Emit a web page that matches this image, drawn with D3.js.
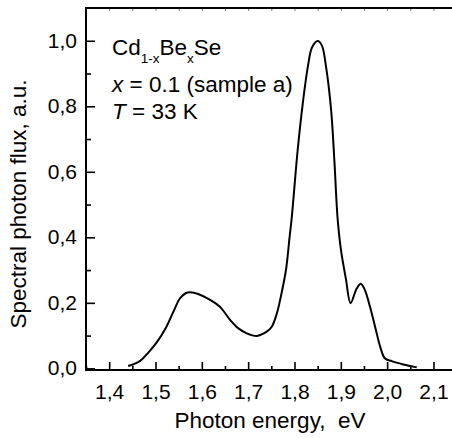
<!DOCTYPE html>
<html>
<head>
<meta charset="utf-8">
<script src="https://cdn.jsdelivr.net/npm/d3@7"></script>
<style>
  html, body { margin: 0; padding: 0; background: #fff; }
  svg { display: block; }
  text { font-family: "Liberation Sans", Arial, Helvetica, sans-serif; fill: #000; white-space: pre; }
</style>
</head>
<body>
<svg id="chart" width="452" height="438"></svg>
<script>
// ---- data ----
const energy = [1.441, 1.467, 1.485, 1.503, 1.521, 1.538, 1.553, 1.566, 1.575, 1.592, 1.618, 1.639, 1.650, 1.661, 1.679, 1.697, 1.718, 1.726, 1.740, 1.751, 1.762, 1.771, 1.782, 1.789, 1.794, 1.807, 1.818, 1.829, 1.838, 1.850, 1.859, 1.868, 1.879, 1.886, 1.893, 1.900, 1.911, 1.921, 1.934, 1.943, 1.952, 1.963, 1.974, 1.985, 1.995, 2.010, 2.035, 2.064];
const flux   = [0.007, 0.023, 0.049, 0.080, 0.120, 0.171, 0.214, 0.230, 0.232, 0.227, 0.209, 0.188, 0.169, 0.148, 0.122, 0.107, 0.099, 0.102, 0.112, 0.127, 0.168, 0.222, 0.304, 0.395, 0.459, 0.668, 0.810, 0.922, 0.980, 0.999, 0.986, 0.922, 0.790, 0.637, 0.459, 0.365, 0.273, 0.199, 0.243, 0.258, 0.239, 0.188, 0.127, 0.066, 0.031, 0.022, 0.012, 0.003];
const xTicks = [1.4, 1.5, 1.6, 1.7, 1.8, 1.9, 2.0, 2.1];
const xTickLabels = ["1,4", "1,5", "1,6", "1,7", "1,8", "1,9", "2,0", "2,1"];
const xMinor = [1.35, 1.45, 1.55, 1.65, 1.75, 1.85, 1.95, 2.05];
const yTicks = [0.0, 0.2, 0.4, 0.6, 0.8, 1.0];
const yTickLabels = ["0,0", "0,2", "0,4", "0,6", "0,8", "1,0"];
const yMinor = [0.1, 0.3, 0.5, 0.7, 0.9];
const topTicks = [1.4, 1.45, 1.5, 1.55, 1.6, 1.65, 1.7, 1.75, 1.8, 1.85, 1.9, 1.95, 2.0, 2.05, 2.1];

// ---- layout ----
const svg = d3.select("#chart");
const L = 86, R = 452, T = 8, B = 370;
const x = d3.scaleLinear().domain([1.35, 2.14]).range([L, R]);
const y = d3.scaleLinear().domain([-0.005, 1.1]).range([B, T]);
const tickFont = "21px", titleFont = "22.5px", noteFont = "22.5px";

// top axis (minor inward ticks)
const gTop = svg.append("g").attr("transform", `translate(0,${T})`)
  .call(d3.axisTop(x).tickValues(topTicks).tickSize(-3).tickFormat(""));
gTop.select(".domain").remove();
gTop.selectAll(".tick line").attr("stroke", "#777").attr("stroke-width", 1);
svg.append("line").attr("x1", L).attr("x2", R).attr("y1", T).attr("y2", T)
  .attr("stroke", "#000").attr("stroke-width", 2);

// bottom axis
const gBm = svg.append("g").attr("transform", `translate(0,${B})`)
  .call(d3.axisBottom(x).tickValues(xMinor).tickSize(-4).tickFormat(""));
gBm.select(".domain").remove();
gBm.selectAll(".tick line").attr("stroke-width", 1.6);
const gB = svg.append("g").attr("transform", `translate(0,${B})`)
  .call(d3.axisBottom(x).tickValues(xTicks).tickSize(-8)
    .tickFormat((d, i) => xTickLabels[i]));
gB.select(".domain").remove();
gB.selectAll(".tick line").attr("stroke-width", 1.6);
gB.selectAll(".tick text").attr("font-size", tickFont).attr("dy", "0").attr("y", 29);
svg.append("line").attr("x1", L - 1).attr("x2", R).attr("y1", B).attr("y2", B)
  .attr("stroke", "#000").attr("stroke-width", 2);

// left axis
const gLm = svg.append("g").attr("transform", `translate(${L},0)`)
  .call(d3.axisLeft(y).tickValues(yMinor).tickSize(-5).tickFormat(""));
gLm.select(".domain").remove();
gLm.selectAll(".tick line").attr("stroke-width", 1.6);
const gL = svg.append("g").attr("transform", `translate(${L},0)`)
  .call(d3.axisLeft(y).tickValues(yTicks).tickSize(-9)
    .tickFormat((d, i) => yTickLabels[i]));
gL.select(".domain").remove();
gL.selectAll(".tick line").attr("stroke-width", 1.6);
gL.selectAll(".tick text").attr("font-size", tickFont).attr("x", -9).attr("dy", "0.3em");
svg.append("line").attr("x1", L).attr("x2", L).attr("y1", T - 1).attr("y2", B + 1)
  .attr("stroke", "#000").attr("stroke-width", 2);

// curve
const line = d3.line()
  .x((d, i) => x(energy[i]))
  .y((d, i) => y(flux[i]))
  .curve(d3.curveCatmullRom.alpha(0.5));
svg.append("path").datum(flux).attr("d", line)
  .attr("fill", "none").attr("stroke", "#000").attr("stroke-width", 2)
  .attr("stroke-linejoin", "round");

// axis titles
svg.append("text").attr("x", 270).attr("y", 428).attr("text-anchor", "middle")
  .attr("font-size", titleFont).text("Photon energy,  eV");
svg.append("text").attr("transform", "translate(26,204) rotate(-90)")
  .attr("text-anchor", "middle").attr("font-size", titleFont)
  .text("Spectral photon flux, a.u.");

// annotation
const t1 = svg.append("text").attr("x", 112).attr("y", 55).attr("font-size", noteFont);
t1.append("tspan").text("Cd");
t1.append("tspan").attr("font-size", "13.5px").attr("dy", 8).text("1-x");
t1.append("tspan").attr("dy", -8).text("Be");
t1.append("tspan").attr("font-size", "13.5px").attr("dy", 8).text("x");
t1.append("tspan").attr("dy", -8).text("Se");
const t2 = svg.append("text").attr("x", 112).attr("y", 91.5).attr("font-size", noteFont);
t2.append("tspan").attr("font-style", "italic").text("x");
t2.append("tspan").text(" = 0.1 (sample a)");
const t3 = svg.append("text").attr("x", 112).attr("y", 118.5).attr("font-size", noteFont);
t3.append("tspan").attr("font-style", "italic").text("T");
t3.append("tspan").text(" = 33 K");
</script>
</body>
</html>
